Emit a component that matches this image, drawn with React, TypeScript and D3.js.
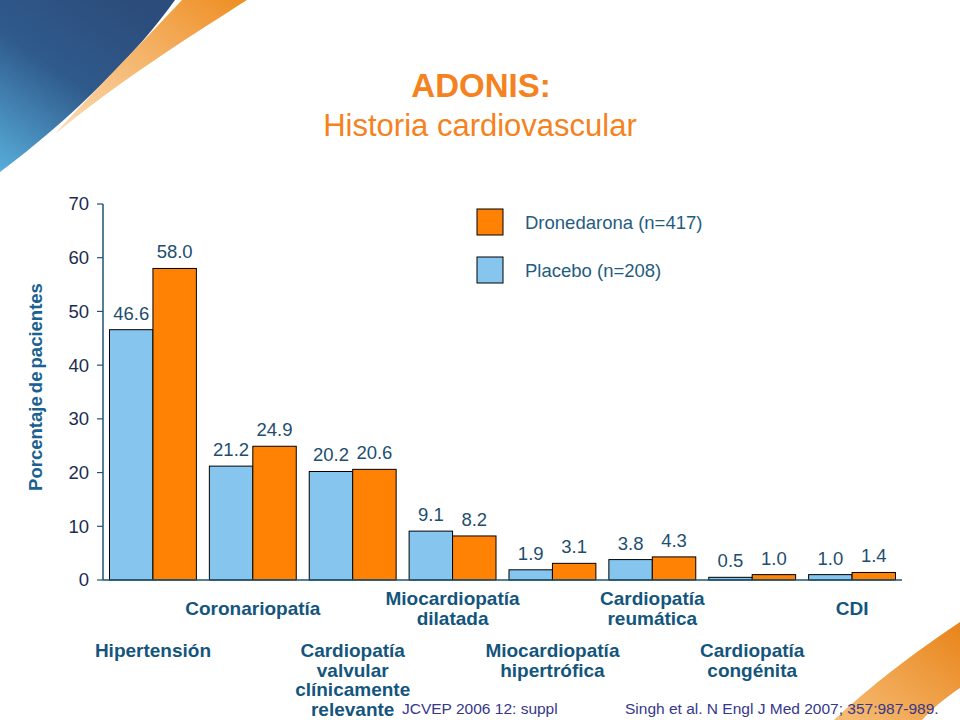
import React from "react";
import * as d3 from "d3";

// categories, each label split in lines; row 0 = upper row, row 1 = lower row
const categories = [
  "Hipertensión",
  "Coronariopatía",
  "Cardiopatía valvular clínicamente relevante",
  "Miocardiopatía dilatada",
  "Miocardiopatía hipertrófica",
  "Cardiopatía reumática",
  "Cardiopatía congénita",
  "CDI",
];
const categoryLines = [
  ["Hipertensión"],
  ["Coronariopatía"],
  ["Cardiopatía", "valvular", "clínicamente", "relevante"],
  ["Miocardiopatía", "dilatada"],
  ["Miocardiopatía", "hipertrófica"],
  ["Cardiopatía", "reumática"],
  ["Cardiopatía", "congénita"],
  ["CDI"],
];
const placebo = [46.6, 21.2, 20.2, 9.1, 1.9, 3.8, 0.5, 1.0];
const dronedarona = [58.0, 24.9, 20.6, 8.2, 3.1, 4.3, 1.0, 1.4];
const yTicks = [0, 10, 20, 30, 40, 50, 60, 70];
const seriesNames = ["Dronedarona (n=417)", "Placebo (n=208)"];

const FONT = "Arial, 'Liberation Sans', sans-serif";
const BLUE = "#85C5EE";
const ORANGE = "#FF8205";

const App: React.FC = () => {
  const left = 103;
  const right = 902;
  const top = 204;
  const bottom = 580;

  const x = d3
    .scaleBand<string>()
    .domain(categories)
    .range([left, right])
    .paddingInner(0.13)
    .paddingOuter(0.065);
  const sub = d3
    .scaleBand<string>()
    .domain(["placebo", "dronedarona"])
    .range([0, x.bandwidth()]);
  const y = d3.scaleLinear().domain([0, 70]).range([bottom, top]);

  const lineH = 19.5;

  const bars = categories.flatMap((c, i) => [
    { c, key: "placebo", v: placebo[i], fill: BLUE },
    { c, key: "dronedarona", v: dronedarona[i], fill: ORANGE },
  ]);

  return (
    <svg
      width={960}
      height={720}
      style={{ position: "absolute", left: 0, top: 0, background: "#fff" }}
      fontFamily={FONT}
    >
      <defs>
        <linearGradient id="blueSw" x1="0.7" y1="0" x2="0" y2="1">
          <stop offset="0" stopColor="#2C4D7C" />
          <stop offset="0.45" stopColor="#2F5A8C" />
          <stop offset="1" stopColor="#58AEDB" />
        </linearGradient>
        <linearGradient id="orSw" x1="1" y1="0" x2="0" y2="1">
          <stop offset="0" stopColor="#EE8E22" />
          <stop offset="1" stopColor="#FBDDB8" />
        </linearGradient>
        <linearGradient id="orSw2" x1="1" y1="0" x2="0" y2="1">
          <stop offset="0" stopColor="#E8841A" />
          <stop offset="1" stopColor="#F7BE78" />
        </linearGradient>
      </defs>

      {/* decorative swooshes */}
      <path d="M0,0 L175,0 C140,50 70,120 0,172 Z" fill="url(#blueSw)" />
      <path
        d="M182,0 L247,0 C200,30 120,80 55,134 C90,95 140,45 182,0 Z"
        fill="url(#orSw)"
      />
      <path
        d="M960,622 C915,652 868,688 834,720 L922,720 C935,706 948,696 960,688 Z"
        fill="url(#orSw2)"
      />

      {/* title */}
      <text x={481} y={97} textAnchor="middle" fontSize={33} fontWeight="bold" fill="#F58220">
        ADONIS:
      </text>
      <text x={480} y={136} textAnchor="middle" fontSize={31} fill="#F58220">
        Historia cardiovascular
      </text>

      {/* y axis */}
      <line x1={left} x2={left} y1={top} y2={bottom} stroke="#1E5470" strokeWidth={1.5} />
      {yTicks.map((t) => (
        <g key={t}>
          <line x1={left - 6} x2={left} y1={y(t)} y2={y(t)} stroke="#1E5470" strokeWidth={1.2} />
          <text x={89} y={y(t)} dy="0.35em" textAnchor="end" fontSize={18.5} fill="#1B2D4F">
            {t}
          </text>
        </g>
      ))}
      <text
        transform="translate(42,387) rotate(-90)"
        textAnchor="middle"
        fontSize={18.5}
        fontWeight="bold"
        fill="#1A6190"
        wordSpacing={-2}
      >
        Porcentaje de pacientes
      </text>

      {/* bars */}
      {bars.map((b, i) => {
        const bx = (x(b.c) ?? 0) + (sub(b.key) ?? 0);
        return (
          <g key={i}>
            <rect
              x={bx}
              y={y(b.v)}
              width={sub.bandwidth()}
              height={bottom - y(b.v)}
              fill={b.fill}
              stroke="#000"
              strokeWidth={1}
            />
            <text
              x={bx + sub.bandwidth() / 2}
              y={y(b.v) - 10}
              textAnchor="middle"
              fontSize={18.5}
              fill="#1D4E6F"
            >
              {b.v.toFixed(1)}
            </text>
          </g>
        );
      })}

      {/* x axis */}
      <line x1={left} x2={right} y1={bottom} y2={bottom} stroke="#1E5470" strokeWidth={1.5} />

      {/* category labels, alternating rows */}
      {categories.map((c, i) => {
        const lines = categoryLines[i];
        const cx = (x(c) ?? 0) + x.bandwidth() / 2;
        const y0 = i % 2 === 1 ? 605 + ((2 - lines.length) * lineH) / 2 : 657;
        return (
          <text
            key={c}
            x={cx}
            y={y0}
            textAnchor="middle"
            fontSize={19}
            fontWeight="bold"
            fill="#14557D"
          >
            {lines.map((l, j) => (
              <tspan key={j} x={cx} y={y0 + j * lineH}>
                {l}
              </tspan>
            ))}
          </text>
        );
      })}

      {/* legend */}
      {seriesNames.map((s, i) => (
        <g key={s}>
          <rect
            x={477}
            y={209 + i * 48}
            width={26}
            height={26}
            fill={i === 0 ? ORANGE : BLUE}
            stroke="#000"
            strokeWidth={1}
          />
          <text x={525} y={228.5 + i * 48} fontSize={18.5} fill="#1F5C82">
            {s}
          </text>
        </g>
      ))}

      {/* footer */}
      <text x={402} y={714} fontSize={15.5} fill="#35388A">
        JCVEP 2006 12: suppl
      </text>
      <text x={625} y={714} fontSize={15.5} fill="#35388A">
        Singh et al. N Engl J Med 2007; 357:987-989.
      </text>
    </svg>
  );
};

export default App;
